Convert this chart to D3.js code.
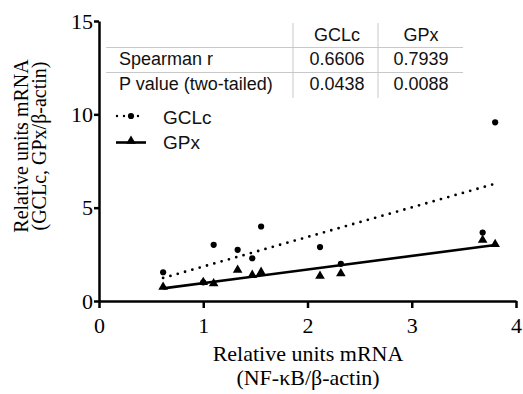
<!DOCTYPE html>
<html>
<head>
<meta charset="utf-8">
<script src="https://cdn.jsdelivr.net/npm/d3@7"></script>
<style>
  body { margin: 0; background: #fff; }
  svg { display: block; }
  .serif { font-family: "Liberation Serif"; font-weight: 400; }
  .sans { font-family: "Liberation Sans"; font-weight: 400; }
</style>
</head>
<body>
<script>
// data
var nfkb = [0.615, 1.0, 1.10, 1.33, 1.47, 1.555, 2.12, 2.32, 3.68, 3.80];
var gclc = [1.54, 1.0, 3.01, 2.74, 2.29, 3.99, 2.89, 1.99, 3.67, 9.57];
var gpx  = [0.72, 0.98, 0.91, 1.63, 1.36, 1.52, 1.31, 1.45, 3.24, 3.01];
var xTicks = [0, 1, 2, 3, 4];
var yTicks = [0, 5, 10, 15];
var tableCols = ["GCLc", "GPx"];
var tableRows = ["Spearman r", "P value (two-tailed)"];
var spearmanR = ["0.6606", "0.7939"];
var pValues = ["0.0438", "0.0088"];

var width = 523, height = 394;

var svg = d3.select("body").append("svg")
  .attr("width", width)
  .attr("height", height);

var x = d3.scaleLinear().domain([0, 4]).range([99, 516]);
var y = d3.scaleLinear().domain([0, 15]).range([301, 21]);

// axes
var xAxis = svg.append("g")
  .attr("transform", "translate(0,301)")
  .call(d3.axisBottom(x).tickValues(xTicks).tickSize(7).tickSizeOuter(0).tickPadding(9).tickFormat(d3.format("d")));

var yAxis = svg.append("g")
  .attr("transform", "translate(99,0)")
  .call(d3.axisLeft(y).tickValues(yTicks).tickSize(5).tickSizeOuter(0).tickPadding(1).tickFormat(d3.format("d")));

[xAxis, yAxis].forEach(g => {
  g.attr("font-family", null).attr("font-size", 22);
  g.selectAll("path, line").attr("stroke", "#000").attr("stroke-width", 2.5);
  g.selectAll("text").attr("class", "serif").attr("fill", "#000");
});

// axis titles
var xt = svg.append("text")
  .attr("class", "serif")
  .attr("font-size", 22)
  .attr("text-anchor", "middle");
xt.append("tspan").attr("x", 308).attr("y", 361).text("Relative units mRNA");
xt.append("tspan").attr("x", 308).attr("y", 385).text("(NF-κB/β-actin)");

var yt = svg.append("text")
  .attr("class", "serif")
  .attr("font-size", 20)
  .attr("text-anchor", "middle")
  .attr("transform", "rotate(-90)");
yt.append("tspan").attr("x", -146).attr("y", 28).text("Relative units mRNA");
yt.append("tspan").attr("x", -146).attr("y", 46).text("(GCLc, GPx/β-actin)");

// linear fits
function fit(xs, ys) {
  var mx = d3.mean(xs), my = d3.mean(ys);
  var sxy = d3.sum(xs, (v, i) => (v - mx) * (ys[i] - my));
  var sxx = d3.sum(xs, v => (v - mx) * (v - mx));
  var b = sxy / sxx;
  return { a: my - b * mx, b: b };
}
var ext = d3.extent(nfkb);
var line = d3.line().x(d => x(d[0])).y(d => y(d[1]));

var f1 = fit(nfkb, gclc);
svg.append("path")
  .datum(ext.map(v => [v, f1.a + f1.b * v]))
  .attr("d", line)
  .attr("fill", "none")
  .attr("stroke", "#000")
  .attr("stroke-width", 2.8)
  .attr("stroke-linecap", "round")
  .attr("stroke-dasharray", "0,7.6");

var f2 = fit(nfkb, gpx);
svg.append("path")
  .datum(ext.map(v => [v, f2.a + f2.b * v]))
  .attr("d", line)
  .attr("fill", "none")
  .attr("stroke", "#000")
  .attr("stroke-width", 2.6);

// points
var tri = d3.symbol().type(d3.symbolTriangle).size(40);

svg.selectAll(".gclc")
  .data(nfkb)
  .enter().append("circle")
  .attr("class", "gclc")
  .attr("cx", d => x(d))
  .attr("cy", (d, i) => y(gclc[i]))
  .attr("r", 3.1)
  .attr("fill", "#000");

svg.selectAll(".gpx")
  .data(nfkb)
  .enter().append("path")
  .attr("class", "gpx")
  .attr("d", tri)
  .attr("transform", (d, i) => "translate(" + x(d) + "," + (y(gpx[i]) - 0.5) + ")")
  .attr("fill", "#000");

// table
var table = svg.append("g")
  .attr("class", "sans")
  .attr("font-size", 18)
  .attr("fill", "#111");

var rowY = [41, 65, 90];
var colX = [337, 421];

[47.5, 72.5].forEach(v => {
  table.append("line")
    .attr("x1", 106).attr("x2", 463)
    .attr("y1", v).attr("y2", v)
    .attr("stroke", "#c8c8c8").attr("stroke-width", 1);
});
[293, 378].forEach(v => {
  table.append("line")
    .attr("x1", v).attr("x2", v)
    .attr("y1", 23).attr("y2", 98)
    .attr("stroke", "#c8c8c8").attr("stroke-width", 1);
});

tableCols.forEach((c, i) => {
  table.append("text").attr("x", colX[i]).attr("y", rowY[0])
    .attr("text-anchor", "middle").text(c);
});
tableRows.forEach((r, i) => {
  table.append("text").attr("x", 119).attr("y", rowY[i + 1]).text(r);
});
[spearmanR, pValues].forEach((vals, r) => {
  vals.forEach((v, i) => {
    table.append("text").attr("x", colX[i]).attr("y", rowY[r + 1])
      .attr("text-anchor", "middle").text(v);
  });
});

// legend
var legend = svg.append("g")
  .attr("class", "sans")
  .attr("font-size", 19)
  .attr("fill", "#111");

legend.append("line")
  .attr("x1", 117).attr("x2", 145).attr("y1", 116).attr("y2", 116)
  .attr("stroke", "#000").attr("stroke-width", 2.4)
  .attr("stroke-linecap", "round").attr("stroke-dasharray", "0,7");
legend.append("circle").attr("cx", 131).attr("cy", 116).attr("r", 3.1).attr("fill", "#000");
legend.append("text").attr("x", 163).attr("y", 124).text(tableCols[0]);

legend.append("line")
  .attr("x1", 116).attr("x2", 146).attr("y1", 142.5).attr("y2", 142.5)
  .attr("stroke", "#000").attr("stroke-width", 2.6);
legend.append("path").attr("d", tri).attr("transform", "translate(131,141)").attr("fill", "#000");
legend.append("text").attr("x", 163).attr("y", 149).text(tableCols[1]);
</script>
</body>
</html>
